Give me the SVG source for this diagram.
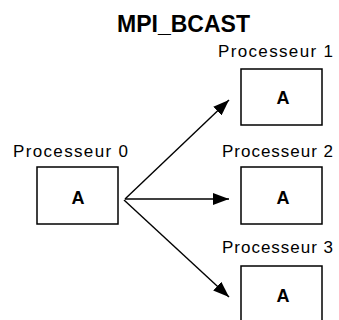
<svg xmlns="http://www.w3.org/2000/svg" width="339" height="320" viewBox="0 0 339 320">
  <style>
    .box { fill: #ffffff; stroke: #000000; stroke-width: 1.5; }
    .title { font-family: "Liberation Sans", Arial, sans-serif; font-size: 23px; font-weight: bold; fill: #000; }
    .label { font-family: "Liberation Sans", Arial, sans-serif; font-size: 17px; fill: #000; }
    .val { font-family: "Liberation Sans", Arial, sans-serif; font-size: 18px; font-weight: bold; fill: #000; text-anchor: middle; }
    .edge { stroke: #000000; stroke-width: 1.4; fill: none; marker-end: url(#head); }
  </style>
  <defs>
    <marker id="head" markerUnits="userSpaceOnUse" markerWidth="16" markerHeight="12" refX="16" refY="6" orient="auto">
      <path d="M0,0 L16,6 L0,12 Z" fill="#000"/>
    </marker>
  </defs>
  <rect width="339" height="320" fill="#ffffff"/>

  <text class="title" x="117" y="32" textLength="133" lengthAdjust="spacingAndGlyphs">MPI_BCAST</text>

  <g id="p0">
    <text class="label" x="13" y="157" textLength="115" lengthAdjust="spacing">Processeur 0</text>
    <rect class="box" x="37" y="167" width="81" height="57"/>
    <text class="val" x="78" y="204">A</text>
  </g>
  <g id="p1">
    <text class="label" x="218" y="57" textLength="115" lengthAdjust="spacing">Processeur 1</text>
    <rect class="box" x="241" y="69" width="81" height="56"/>
    <text class="val" x="283" y="104">A</text>
  </g>
  <g id="p2">
    <text class="label" x="222" y="157" textLength="111" lengthAdjust="spacing">Processeur 2</text>
    <rect class="box" x="241" y="167" width="81" height="57"/>
    <text class="val" x="283" y="204">A</text>
  </g>
  <g id="p3">
    <text class="label" x="222" y="253" textLength="111" lengthAdjust="spacing">Processeur 3</text>
    <rect class="box" x="241" y="266" width="81" height="58"/>
    <text class="val" x="283" y="302">A</text>
  </g>

  <g id="connectors">
    <line class="edge" x1="125" y1="199" x2="229" y2="100"/>
    <line class="edge" x1="125" y1="199" x2="229" y2="199"/>
    <line class="edge" x1="124" y1="200" x2="229" y2="297"/>
  </g>
</svg>
